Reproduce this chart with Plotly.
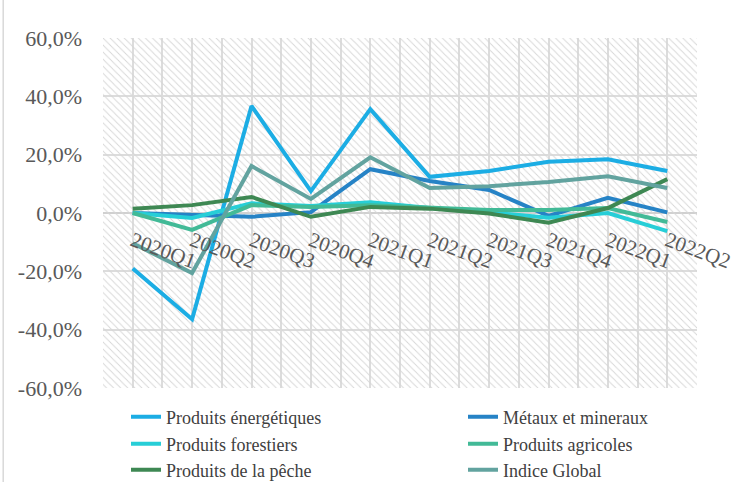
import plotly.graph_objects as go

categories = ["2020Q1", "2020Q2", "2020Q3", "2020Q4", "2021Q1", "2021Q2",
              "2021Q3", "2021Q4", "2022Q1", "2022Q2"]

energetiques = [-19.0, -36.4, 36.7, 7.5, 35.6, 12.4, 14.4, 17.6, 18.4, 14.4]
metaux = [0.0, -0.8, -1.3, 0.3, 15.0, 11.0, 7.9, -1.0, 5.2, 0.2]
forestiers = [0.0, -1.7, 3.3, 2.4, 3.7, 1.7, 0.2, -1.6, 0.0, -6.2]
agricoles = [0.0, -5.8, 2.7, 2.1, 2.7, 1.7, 1.0, 1.0, 1.7, -3.1]
peche = [1.5, 2.7, 5.5, -1.3, 2.1, 1.5, -0.2, -3.3, 1.7, 11.6]
global_idx = [-10.4, -20.6, 16.1, 4.8, 19.1, 8.6, 9.2, 10.6, 12.6, 8.6]

series_names = ["Produits énergétiques", "Métaux et mineraux", "Produits forestiers",
                "Produits agricoles", "Produits de la pêche", "Indice Global"]
series_values = [energetiques, metaux, forestiers, agricoles, peche, global_idx]
series_colors = ["#1CADE4", "#2683C6", "#27CED7", "#42BA97", "#3E8853", "#62A39F"]

y_tick_vals = [-60, -40, -20, 0, 20, 40, 60]
y_tick_text = ["-60,0%", "-40,0%", "-20,0%", "0,0%", "20,0%", "40,0%", "60,0%"]

FONT = "Liberation Serif"
GRID = "#DCDCDC"
W, H = 739, 482

x_idx = list(range(len(categories)))
legend_ids = ["legend", "legend2", "legend3", "legend4", "legend5", "legend6"]
# legend entry anchor positions (container pixels): two columns, three rows
legend_px_x = [126, 463]
legend_px_y = [417, 444, 470]

fig = go.Figure()

# hatched plot-area background
fig.add_trace(go.Scatter(
    x=[-0.5, len(categories) - 0.5, len(categories) - 0.5, -0.5, -0.5],
    y=[y_tick_vals[0], y_tick_vals[0], y_tick_vals[-1], y_tick_vals[-1], y_tick_vals[0]],
    mode="lines", line=dict(width=0), fill="toself",
    fillcolor="rgba(0,0,0,0)",
    fillpattern=dict(shape="\\", size=5, solidity=0.18, fgcolor="#D6D6D6",
                     bgcolor="rgba(255,255,255,0)", fillmode="replace"),
    showlegend=False, hoverinfo="skip"))

for name, vals, col, lg in zip(series_names, series_values, series_colors, legend_ids):
    fig.add_trace(go.Scatter(x=x_idx, y=vals, mode="lines", name=name, legend=lg,
                             line=dict(color=col, width=4)))

legend_layouts = {}
for i, lg in enumerate(legend_ids):
    legend_layouts[lg] = dict(
        orientation="h", xref="container", yref="container",
        x=legend_px_x[i % 2] / W, y=1 - legend_px_y[i // 2] / H,
        xanchor="left", yanchor="middle",
        font=dict(size=18, color="#404040", family=FONT),
        bgcolor="rgba(0,0,0,0)")

fig.update_layout(
    width=W, height=H,
    margin=dict(l=103, r=42, t=38, b=94, autoexpand=False),
    paper_bgcolor="white", plot_bgcolor="white",
    font=dict(family=FONT, color="#595959"),
    xaxis=dict(range=[-0.5, len(categories) - 0.5], tickmode="array",
               tickvals=x_idx, ticktext=categories, tickangle=20,
               tickfont=dict(size=21, color="#595959", family=FONT),
               showgrid=True, gridcolor=GRID, gridwidth=1.5,
               minor=dict(dtick=0.5, tick0=-0.5, showgrid=True, gridcolor=GRID, gridwidth=1.5),
               zeroline=False, showline=False, ticks="", ticklabelstandoff=11,
               anchor="free", position=0.5),
    yaxis=dict(range=[y_tick_vals[0], y_tick_vals[-1]], tickmode="array",
               tickvals=y_tick_vals, ticktext=y_tick_text,
               tickfont=dict(size=22, color="#595959", family=FONT),
               showgrid=True, gridcolor=GRID, gridwidth=1.5,
               zeroline=True, zerolinecolor="#D0D0D0", zerolinewidth=2,
               showline=False, ticks="", ticklabelstandoff=20, domain=[0, 1]),
    showlegend=True,
    shapes=[dict(type="line", xref="paper", yref="paper", x0=-0.168, x1=-0.168,
                 y0=-0.3, y1=1.2, line=dict(color="#D9D9D9", width=1.5))],
    **legend_layouts,
)

fig.write_html("out.html")
